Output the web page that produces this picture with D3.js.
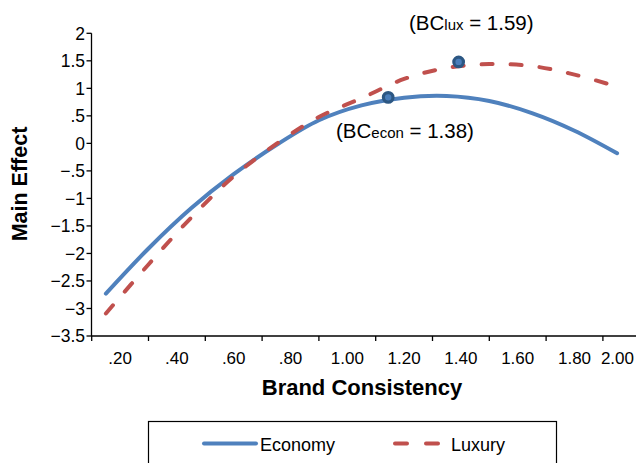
<!DOCTYPE html>
<html><head><meta charset="utf-8">
<script src="https://cdn.jsdelivr.net/npm/d3@7"></script>
<style>
body{margin:0;background:#fff;}
svg{display:block;font-family:"Liberation Sans",Arial,Helvetica,sans-serif;}
</style></head>
<body>
<svg id="chart" width="636" height="463"></svg>
<script>
const xValues = [0.15, 0.30, 0.45, 0.60, 0.75, 0.90, 1.05, 1.20, 1.35, 1.50, 1.65, 1.80, 1.95];
const economy = [-2.73, -1.91, -1.18, -0.56, -0.03, 0.42, 0.69, 0.83, 0.86, 0.77, 0.55, 0.23, -0.18];
const luxury  = [-3.09, -2.20, -1.35, -0.60, -0.01, 0.48, 0.82, 1.17, 1.37, 1.44, 1.405, 1.25, 1.03];
const xTickLabels = [0.2, 0.4, 0.6, 0.8, 1.0, 1.2, 1.4, 1.6, 1.8, 2.0];
const yTicks = [2, 1.5, 1, 0.5, 0, -0.5, -1, -1.5, -2, -2.5, -3, -3.5];
const markerX = [1.144, 1.392];
const markerY = [0.836, 1.48];
const annotations = [
  {pre: "(BC", sub: "lux", post: " = 1.59)"},
  {pre: "(BC", sub: "econ", post: " = 1.38)"}
];
const seriesNames = ["Economy", "Luxury"];

const svg = d3.select("#chart");
const x = d3.scaleLinear().domain([0.1, 2.1]).range([91.7, 659.7]);
const y = d3.scaleLinear().domain([-3.5, 2]).range([336, 33.3]);

const fmtY = v => {
  if (v === 0) return "0";
  let s = Math.abs(v).toString().replace(/^0\./, ".");
  return (v < 0 ? "\u2212" : "") + s;
};

// Y axis
const yAxis = svg.append("g").attr("transform", "translate(91.5,0)");
yAxis.append("line").attr("x1", 0).attr("x2", 0).attr("y1", y(2)).attr("y2", y(-3.5))
  .attr("stroke", "#000").attr("stroke-width", 1.3);
yAxis.selectAll("line.tk").data(yTicks).join("line").attr("class", "tk")
  .attr("x1", -5).attr("x2", 0).attr("y1", d => y(d)).attr("y2", d => y(d))
  .attr("stroke", "#000").attr("stroke-width", 1.3);
yAxis.selectAll("text").data(yTicks).join("text")
  .attr("x", -6.5).attr("y", d => y(d)).attr("dy", "0.36em")
  .attr("text-anchor", "end").attr("font-size", 17.5).attr("fill", "#000")
  .text(fmtY);

// X axis
const xAxis = svg.append("g").attr("transform", "translate(0,336)");
xAxis.append("line").attr("x1", 91.5).attr("x2", 636).attr("y1", 0).attr("y2", 0)
  .attr("stroke", "#000").attr("stroke-width", 1.3);
const xTickPos = d3.range(0.1, 2.0, 0.2);
xAxis.selectAll("line.tk").data(xTickPos).join("line").attr("class", "tk")
  .attr("x1", d => x(d)).attr("x2", d => x(d)).attr("y1", 0).attr("y2", 5)
  .attr("stroke", "#000").attr("stroke-width", 1.3);
xAxis.selectAll("text").data(xTickLabels).join("text")
  .attr("x", d => d === 2.0 ? 634 : x(d))
  .attr("y", 27.5)
  .attr("text-anchor", d => d === 2.0 ? "end" : "middle")
  .attr("font-size", 17).attr("fill", "#000")
  .text(d => d < 1 ? d.toFixed(2).replace(/^0/, "") : d.toFixed(2));

// Axis titles
svg.append("text").attr("x", 362).attr("y", 395).attr("text-anchor", "middle")
  .attr("font-size", 22).attr("font-weight", "bold").text("Brand Consistency");
svg.append("text").attr("transform", "translate(27,184) rotate(-90)")
  .attr("text-anchor", "middle").attr("font-size", 21.5).attr("font-weight", "bold").text("Main Effect");

// Lines
const line = d3.line().x(d => x(d[0])).y(d => y(d[1])).curve(d3.curveCatmullRom.alpha(0.5));
const econData = xValues.map((v, i) => [v, economy[i]]);
const luxData = xValues.map((v, i) => [v, luxury[i]]);
svg.append("path").datum(econData).attr("d", line).attr("fill", "none")
  .attr("stroke", "#4f81bd").attr("stroke-width", 4).attr("stroke-linecap", "round");
svg.append("path").datum(luxData).attr("d", line).attr("fill", "none")
  .attr("stroke", "#c0504d").attr("stroke-width", 4).attr("stroke-linecap", "round")
  .attr("stroke-dasharray", "11,18");

// Markers
svg.selectAll("circle.mk").data(markerX).join("circle").attr("class", "mk")
  .attr("cx", d => x(d)).attr("cy", (d, i) => y(markerY[i])).attr("r", 4.8)
  .attr("fill", "#4a7ebb").attr("stroke", "#2c5783").attr("stroke-width", 3.2);

// Annotations
const annPos = [[409, 30], [336, 138]];
annotations.forEach((a, i) => {
  const t = svg.append("text").attr("x", annPos[i][0]).attr("y", annPos[i][1])
    .attr("font-size", 20.5).attr("fill", "#000");
  t.append("tspan").text(a.pre);
  t.append("tspan").attr("font-size", 15).text(a.sub);
  t.append("tspan").text(a.post);
});

// Legend
const lg = svg.append("g");
lg.append("rect").attr("x", 148.5).attr("y", 421.5).attr("width", 408).attr("height", 60)
  .attr("fill", "none").attr("stroke", "#000").attr("stroke-width", 1.2);
lg.append("line").attr("x1", 204).attr("x2", 256).attr("y1", 443.5).attr("y2", 443.5)
  .attr("stroke", "#4f81bd").attr("stroke-width", 4).attr("stroke-linecap", "round");
lg.append("text").attr("x", 260).attr("y", 450.5).attr("font-size", 18).text(seriesNames[0]);
lg.append("line").attr("x1", 395).attr("x2", 441).attr("y1", 443.5).attr("y2", 443.5)
  .attr("stroke", "#c0504d").attr("stroke-width", 4).attr("stroke-linecap", "round")
  .attr("stroke-dasharray", "12,19");
lg.append("text").attr("x", 451).attr("y", 450.5).attr("font-size", 18).text(seriesNames[1]);
</script>
</body></html>
